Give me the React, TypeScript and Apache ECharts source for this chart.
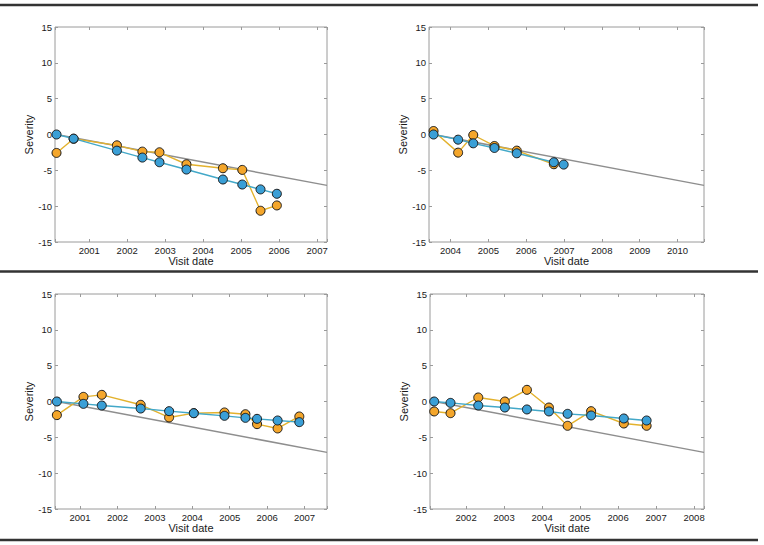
import React, { useEffect, useRef } from 'react';
import * as echarts from 'echarts';

// Panel 1 (top-left)
const p1Dates = [2000.14, 2000.59, 2001.73, 2002.4, 2002.85, 2003.56, 2004.52, 2005.03, 2005.51, 2005.94];
const p1Blue = [0, -0.58, -2.25, -3.22, -3.87, -4.89, -6.28, -6.98, -7.66, -8.27];
const p1Orange = [-2.57, -0.6, -1.51, -2.39, -2.48, -4.15, -4.71, -4.94, -10.64, -9.9];
const p1Range = [2000.1, 2007.26];
const p1Ref = [[2000.14, 0], [2007.26, -7.1]];

// Panel 2 (top-right)
const p2Dates = [2003.55, 2004.2, 2004.6, 2005.16, 2005.75, 2006.73, 2006.99];
const p2Blue = [0, -0.72, -1.23, -1.88, -2.62, -3.87, -4.2];
const p2Orange = [0.49, -2.53, -0.07, -1.6, -2.25, -4.15];
const p2Range = [2003.43, 2010.7];
const p2Ref = [[2003.55, 0], [2010.7, -7.1]];

// Panel 3 (bottom-left)
const p3Dates = [2000.38, 2001.09, 2001.58, 2002.62, 2003.38, 2004.04, 2004.86, 2005.42, 2005.73, 2006.28, 2006.86];
const p3Blue = [0, -0.33, -0.56, -0.98, -1.35, -1.63, -2.0, -2.28, -2.42, -2.65, -2.88];
const p3Orange = [-1.9, 0.65, 0.93, -0.46, -2.23, -1.63, -1.53, -1.77, -3.16, -3.76, -2.09];
const p3Range = [2000.33, 2007.6];
const p3Ref = [[2000.38, 0], [2007.6, -7.1]];

// Panel 4 (bottom-right)
const p4Dates = [2001.16, 2001.59, 2002.32, 2003.02, 2003.6, 2004.18, 2004.67, 2005.29, 2006.15, 2006.75];
const p4Blue = [0, -0.19, -0.56, -0.84, -1.11, -1.39, -1.72, -1.95, -2.37, -2.65];
const p4Orange = [-1.39, -1.63, 0.56, 0.0, 1.63, -0.84, -3.39, -1.35, -3.07, -3.39];
const p4Range = [2001.05, 2008.26];
const p4Ref = [[2001.16, 0], [2008.26, -7.1]];

const yTicks = { min: -15, max: 15, interval: 5 };
const xTitle = 'Visit date';
const yTitle = 'Severity';

const panels = [
  { dates: p1Dates, blue: p1Blue, orange: p1Orange, range: p1Range, ref: p1Ref },
  { dates: p2Dates, blue: p2Blue, orange: p2Orange, range: p2Range, ref: p2Ref },
  { dates: p3Dates, blue: p3Blue, orange: p3Orange, range: p3Range, ref: p3Ref },
  { dates: p4Dates, blue: p4Blue, orange: p4Orange, range: p4Range, ref: p4Ref },
];

const gridBoxes = [
  { left: 55, top: 27, width: 272, height: 215 },
  { left: 429, top: 27, width: 275, height: 215 },
  { left: 55, top: 294, width: 272, height: 215 },
  { left: 430, top: 294, width: 274, height: 215 },
];

const FONT = 'Arial, "Liberation Sans", Helvetica, sans-serif';
const BOX = '#9a9a9a';
const TXT = '#1a1a1a';

export default function App() {
  const ref = useRef<HTMLDivElement>(null);
  useEffect(() => {
    if (!ref.current) return;
    const chart = echarts.init(ref.current, null, { renderer: 'svg' });
    const grids: any[] = [];
    const xAxes: any[] = [];
    const yAxes: any[] = [];
    const series: any[] = [];
    panels.forEach((p, i) => {
      grids.push({ ...gridBoxes[i], show: true, borderColor: BOX, borderWidth: 1, backgroundColor: '#fff', containLabel: false });
      const xBase = {
        type: 'value', gridIndex: i, min: p.range[0], max: p.range[1], splitNumber: 7,
        splitLine: { show: false }, axisLine: { show: false, onZero: false },
        axisTick: { show: true, inside: true, length: 3, lineStyle: { color: BOX, width: 1 } },
      };
      xAxes.push({
        ...xBase, position: 'bottom',
        name: xTitle, nameLocation: 'middle', nameGap: 12,
        nameTextStyle: { fontFamily: FONT, fontSize: 11, color: TXT },
        axisLabel: {
          show: true, fontFamily: FONT, fontSize: 9.5, color: TXT, margin: 3,
          formatter: (v: number) => (Math.abs(v - Math.round(v)) < 1e-6 ? String(Math.round(v)) : ''),
        },
      });
      xAxes.push({ ...xBase, position: 'top', axisLabel: { show: false } });
      const yBase = {
        type: 'value', gridIndex: i, min: yTicks.min, max: yTicks.max, interval: yTicks.interval,
        splitLine: { show: false }, axisLine: { show: false, onZero: false },
        axisTick: { show: true, inside: true, length: 3, lineStyle: { color: BOX, width: 1 } },
      };
      yAxes.push({
        ...yBase, position: 'left',
        name: yTitle, nameLocation: 'middle', nameGap: 21, nameRotate: 90,
        nameTextStyle: { fontFamily: FONT, fontSize: 11, color: TXT },
        axisLabel: { show: true, fontFamily: FONT, fontSize: 9.5, color: TXT, margin: 3 },
      });
      yAxes.push({ ...yBase, position: 'right', axisLabel: { show: false } });

      series.push({
        type: 'line', xAxisIndex: 2 * i, yAxisIndex: 2 * i, data: p.ref,
        showSymbol: false, symbol: 'none', lineStyle: { color: '#8e8e8e', width: 1.5 }, z: 2,
        silent: true,
      });
      series.push({
        type: 'line', xAxisIndex: 2 * i, yAxisIndex: 2 * i,
        data: p.orange.map((v, k) => [p.dates[k], v]),
        symbol: 'circle', symbolSize: 9,
        lineStyle: { color: '#E3B22E', width: 1.4 },
        itemStyle: { color: '#F4A62B', borderColor: '#1a1a1a', borderWidth: 1 }, z: 3,
      });
      series.push({
        type: 'line', xAxisIndex: 2 * i, yAxisIndex: 2 * i,
        data: p.blue.map((v, k) => [p.dates[k], v]),
        symbol: 'circle', symbolSize: 9,
        lineStyle: { color: '#43A8C8', width: 1.4 },
        itemStyle: { color: '#3A9FD6', borderColor: '#1a1a1a', borderWidth: 1 }, z: 4,
      });
    });

    const rule = (y: number) => ({
      type: 'line', shape: { x1: 0, y1: y, x2: 758, y2: y },
      style: { stroke: '#333', lineWidth: 2.5 }, silent: true,
    });

    chart.setOption({
      animation: false,
      backgroundColor: '#fff',
      grid: grids,
      xAxis: xAxes,
      yAxis: yAxes,
      series,
      graphic: [rule(5), rule(271.5), rule(540)],
    });
    return () => chart.dispose();
  }, []);
  return (
    <div
      ref={ref}
      style={{ position: 'fixed', left: 0, top: 0, width: 764, height: 545, background: '#fff' }}
    />
  );
}
